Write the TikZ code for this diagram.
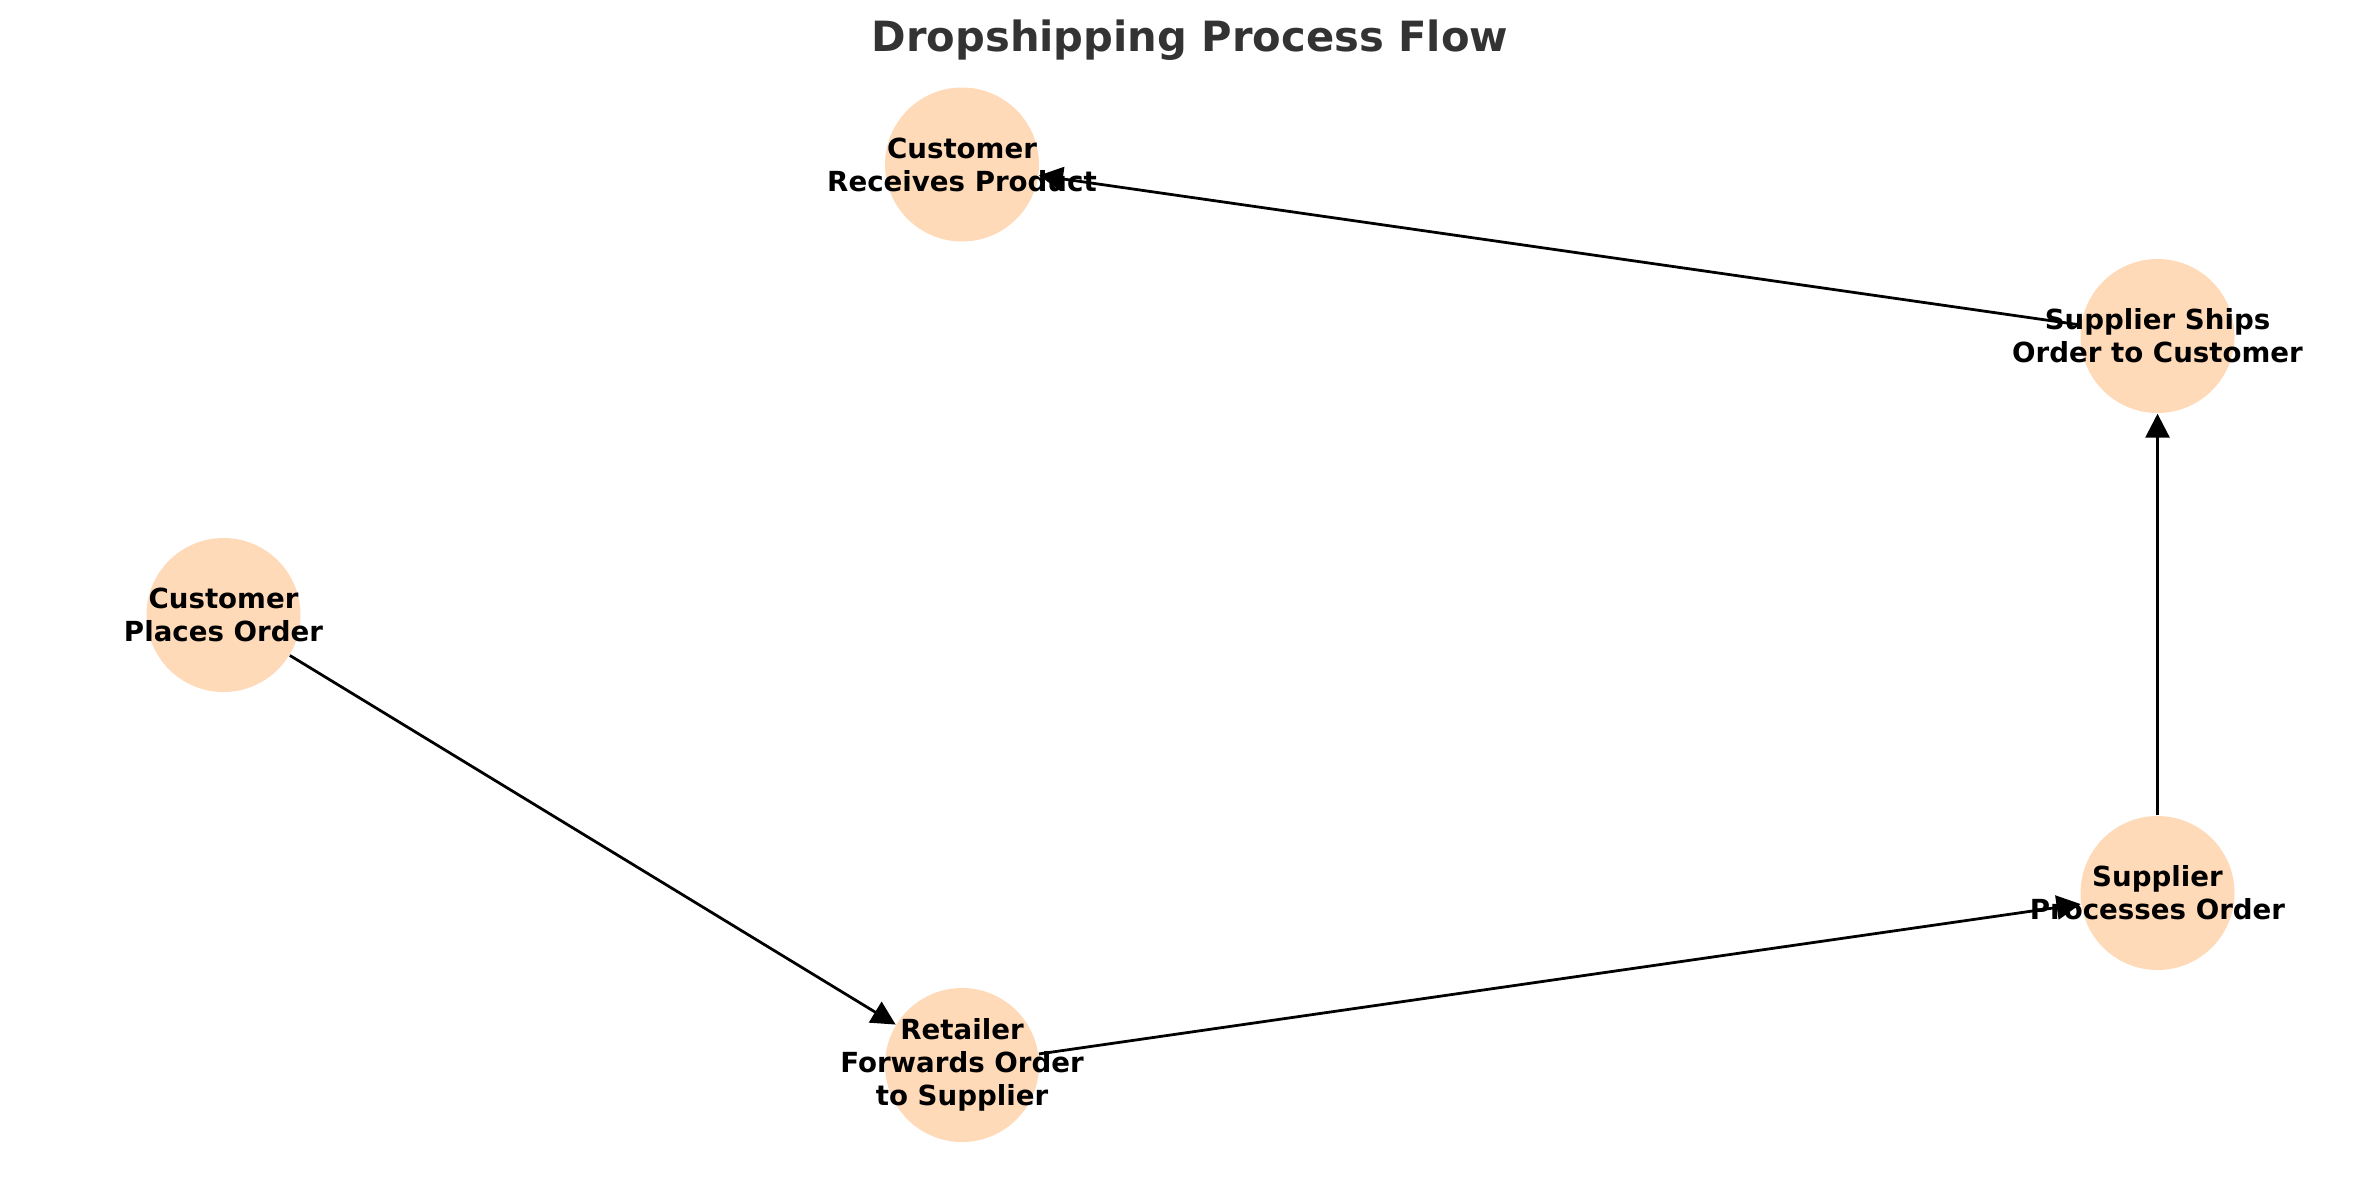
\documentclass[tikz,border=0pt]{standalone}
\usepackage{fontspec}
\setmainfont{DejaVu Sans}
\usetikzlibrary{arrows.meta}
\definecolor{nodefill}{HTML}{FFDAB9}
\definecolor{titlecol}{HTML}{333333}
\tikzset{
  stepcircle/.style={circle, fill=nodefill, draw=none, minimum size=1.54cm, inner sep=0pt},
  steplabel/.style={align=center, font=\fontsize{7.87pt}{9.4pt}\selectfont\bfseries, text=black, inner sep=0pt},
  flow/.style={draw=black, line width=0.79pt, -{Triangle[length=0.24cm, width=0.24cm]}}
}
\begin{document}
\begin{tikzpicture}[x=1cm,y=1cm]
\useasboundingbox (0,0) rectangle (23.79,11.80);
\node[font=\fontsize{11.85pt}{14pt}\selectfont\bfseries, text=titlecol] (title) at (11.90,11.40) {Dropshipping Process Flow};
\node[stepcircle] (cpo) at (2.235,5.65) {};
\node[stepcircle] (rfo) at (9.62,1.15) {};
\node[stepcircle] (spo) at (21.575,2.87) {};
\node[stepcircle] (sso) at (21.575,8.44) {};
\node[stepcircle] (crp) at (9.62,10.155) {};
\node[steplabel] (cpol) at (cpo) {Customer\\Places Order};
\node[steplabel] (rfol) at (rfo) {Retailer\\Forwards Order\\to Supplier};
\node[steplabel] (spol) at (spo) {Supplier\\Processes Order};
\node[steplabel] (ssol) at (sso) {Supplier Ships\\Order to Customer};
\node[steplabel] (crpl) at (crp) {Customer\\Receives Product};
\draw[flow] (cpo) -- (rfo);
\draw[flow] (rfo) -- (spo);
\draw[flow] (spo) -- (sso);
\draw[flow] (sso) -- (crp);
\end{tikzpicture}
\end{document}
